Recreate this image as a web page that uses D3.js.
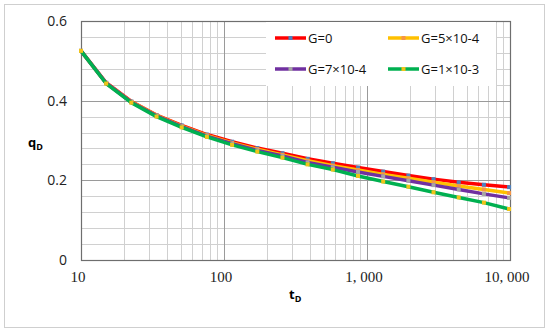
<!DOCTYPE html>
<html>
<head>
<meta charset="utf-8">
<script src="https://cdn.jsdelivr.net/npm/d3@7"></script>
<style>
body { margin: 0; background: #fff; }
</style>
</head>
<body>
<div id="chart"></div>
<script>
// data
var tValues = [10, 15, 22.5, 33.75, 50.6, 75.9, 113.9, 170.9, 256.3, 384.4, 576.7, 865, 1297.5, 1946.2, 2919.3, 4379, 6568.4, 9852.6];
var qG0   = [0.525, 0.445, 0.398, 0.364, 0.338, 0.315, 0.297, 0.281, 0.268, 0.254, 0.243, 0.232, 0.222, 0.212, 0.203, 0.195, 0.189, 0.183];
var qG5e4 = [0.525, 0.444, 0.397, 0.363, 0.336, 0.313, 0.294, 0.278, 0.264, 0.249, 0.237, 0.226, 0.215, 0.205, 0.195, 0.186, 0.177, 0.168];
var qG7e4 = [0.525, 0.444, 0.396, 0.362, 0.335, 0.311, 0.292, 0.275, 0.261, 0.245, 0.233, 0.221, 0.210, 0.199, 0.188, 0.177, 0.166, 0.156];
var qG1e3 = [0.525, 0.443, 0.395, 0.360, 0.333, 0.309, 0.289, 0.272, 0.257, 0.240, 0.227, 0.211, 0.197, 0.184, 0.170, 0.157, 0.144, 0.128];

var seriesNames = ["G=0", "G=5×10-4", "G=7×10-4", "G=1×10-3"];
var seriesValues = [qG0, qG5e4, qG7e4, qG1e3];
var lineColors = ["#ff0000", "#ffc000", "#7030a0", "#00b050"];
var markColors = ["#4f81bd", "#f79646", "#a5a5a5", "#f0c419"];

var xTicks = [10, 100, 1000, 10000];
var xTickLabels = ["10", "100", "1, 000", "10, 000"];
var yTicks = [0, 0.2, 0.4, 0.6];
var yTickLabels = ["0", "0.2", "0.4", "0.6"];

var width = 550, height = 333;
var pLeft = 81, pRight = 510, pTop = 21, pBottom = 260;

var svg = d3.select("#chart").append("svg")
	.attr("width", width)
	.attr("height", height);

// outer frame
svg.append("rect")
	.attr("x", 4.5).attr("y", 4.5)
	.attr("width", 540).attr("height", 323)
	.attr("fill", "#fff")
	.attr("stroke", "#cfcfcf");

var x = d3.scaleLog().domain([10, 10000]).range([pLeft, pRight]);
var y = d3.scaleLinear().domain([0, 0.6]).range([pBottom, pTop]);

// grid, minor first
var minorX = [];
for (var d = 10; d < 10000; d *= 10) {
	for (var k = 2; k <= 9; k++) minorX.push(d * k);
}
svg.append("g").selectAll("line").data(minorX).enter().append("line")
	.attr("x1", function(v) { return Math.round(x(v)) + 0.5; })
	.attr("x2", function(v) { return Math.round(x(v)) + 0.5; })
	.attr("y1", pTop).attr("y2", pBottom)
	.attr("stroke", "#d0d0d0").attr("stroke-width", 1);

var minorY = d3.range(0, 15).map(function(i) { return i * 0.04; }).filter(function(v) { return v > 0.001; });
svg.append("g").selectAll("line").data(minorY).enter().append("line")
	.attr("x1", pLeft).attr("x2", pRight)
	.attr("y1", function(v) { return Math.round(y(v)) + 0.5; })
	.attr("y2", function(v) { return Math.round(y(v)) + 0.5; })
	.attr("stroke", "#d0d0d0").attr("stroke-width", 1);

svg.append("g").selectAll("line").data(xTicks.slice(1, 3)).enter().append("line")
	.attr("x1", function(v) { return Math.round(x(v)) + 0.5; })
	.attr("x2", function(v) { return Math.round(x(v)) + 0.5; })
	.attr("y1", pTop).attr("y2", pBottom)
	.attr("stroke", "#9a9a9a").attr("stroke-width", 1);

svg.append("g").selectAll("line").data(yTicks.slice(1, 3)).enter().append("line")
	.attr("x1", pLeft).attr("x2", pRight)
	.attr("y1", function(v) { return Math.round(y(v)) + 0.5; })
	.attr("y2", function(v) { return Math.round(y(v)) + 0.5; })
	.attr("stroke", "#9a9a9a").attr("stroke-width", 1);

// plot frame
svg.append("rect")
	.attr("x", pLeft + 0.5).attr("y", pTop + 0.5)
	.attr("width", pRight - pLeft).attr("height", pBottom - pTop)
	.attr("fill", "none")
	.attr("stroke", "#6e6e6e").attr("stroke-width", 1.2);

// legend box sits on the grid
svg.append("rect")
	.attr("x", 266).attr("y", 22)
	.attr("width", 230).attr("height", 64)
	.attr("fill", "#fff");

// axis labels
svg.append("g").selectAll("text").data(yTicks).enter().append("text")
	.attr("x", 67)
	.attr("y", function(v) { return y(v) + 5; })
	.attr("text-anchor", "end")
	.attr("font-family", "Open Sans, Liberation Sans, sans-serif")
	.attr("font-size", 14)
	.attr("fill", "#222")
	.text(function(v, i) { return yTickLabels[i]; });

svg.append("g").selectAll("text").data(xTicks).enter().append("text")
	.attr("x", function(v) { return x(v) - 3; })
	.attr("y", 282)
	.attr("text-anchor", "middle")
	.attr("font-family", "Liberation Serif, serif")
	.attr("font-size", 15)
	.attr("fill", "#222")
	.text(function(v, i) { return xTickLabels[i]; });

var qLab = svg.append("text")
	.attr("x", 28).attr("y", 147)
	.attr("font-family", "Open Sans, Liberation Sans, sans-serif")
	.attr("font-weight", "bold")
	.attr("font-size", 13);
qLab.append("tspan").text("q");
qLab.append("tspan").attr("font-size", 9).attr("dy", 3).text("D");

var tLab = svg.append("text")
	.attr("x", 289).attr("y", 299)
	.attr("font-family", "Open Sans, Liberation Sans, sans-serif")
	.attr("font-weight", "bold")
	.attr("font-size", 13);
tLab.append("tspan").text("t");
tLab.append("tspan").attr("font-size", 9).attr("dy", 3).text("D");

// curves
var line = d3.line()
	.x(function(d) { return x(d[0]); })
	.y(function(d) { return y(d[1]); });

for (var s = 0; s < seriesValues.length; s++) {
	var pts = tValues.map(function(t, i) { return [t, seriesValues[s][i]]; });
	svg.append("path")
		.datum(pts)
		.attr("d", line)
		.attr("fill", "none")
		.attr("stroke", lineColors[s])
		.attr("stroke-width", 3.5)
		.attr("stroke-linejoin", "round");
	svg.append("g").selectAll("rect").data(pts).enter().append("rect")
		.attr("x", function(d) { return x(d[0]) - 2; })
		.attr("y", function(d) { return y(d[1]) - 2; })
		.attr("width", 4).attr("height", 4)
		.attr("fill", markColors[s]);
}

// legend
var legX = [275, 388];
var legY = [38, 69];
for (var s = 0; s < seriesNames.length; s++) {
	var lx = legX[s % 2], ly = legY[Math.floor(s / 2)];
	svg.append("line")
		.attr("x1", lx).attr("x2", lx + 31)
		.attr("y1", ly).attr("y2", ly)
		.attr("stroke", lineColors[s]).attr("stroke-width", 3.5);
	svg.append("rect")
		.attr("x", lx + 13.5).attr("y", ly - 2)
		.attr("width", 4).attr("height", 4)
		.attr("fill", markColors[s]);
	svg.append("text")
		.attr("x", lx + 33).attr("y", ly + 5)
		.attr("font-family", "Open Sans, Liberation Sans, sans-serif")
		.attr("font-size", 13)
		.attr("fill", "#111")
		.text(seriesNames[s]);
}
</script>
</body>
</html>
